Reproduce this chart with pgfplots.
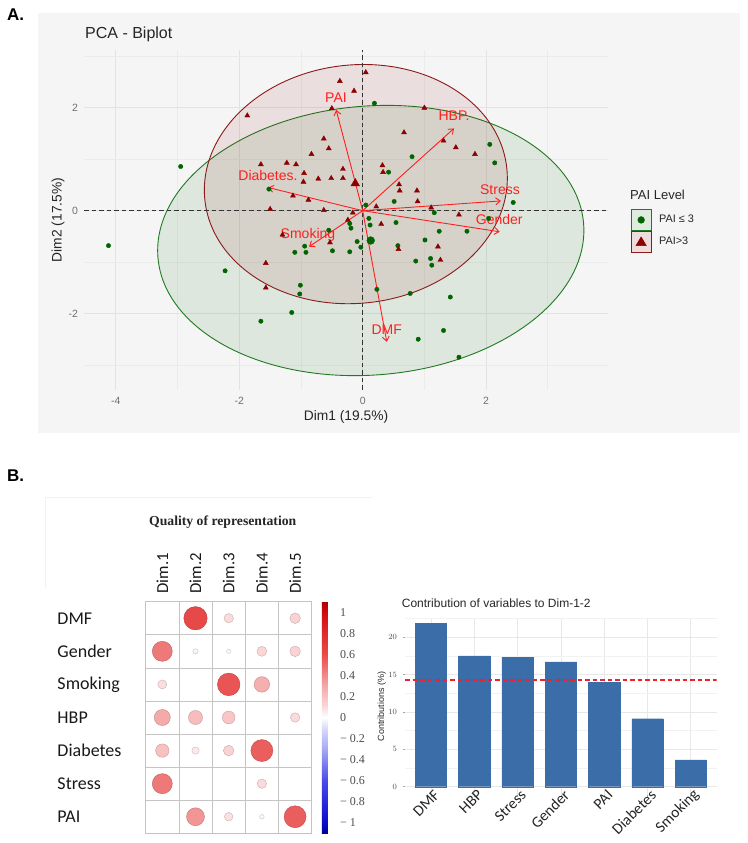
\documentclass[border=0pt]{standalone}
\usepackage{fontspec}
\setmainfont{Liberation Sans}
\newfontfamily\carlito{Carlito}
\newfontfamily\tnr{Liberation Serif}
\usepackage{pgfplots}
\pgfplotsset{compat=1.18}
\usetikzlibrary{arrows.meta}
\definecolor{bgA}{HTML}{F5F5F5}
\definecolor{gridA}{HTML}{E2E2E2}
\definecolor{gridAm}{HTML}{EBEBEB}
\definecolor{tickA}{HTML}{707070}
\definecolor{dkgreen}{HTML}{006400}
\definecolor{dkred}{HTML}{8B0000}
\definecolor{ellred}{HTML}{8B1A1A}
\definecolor{ellgreen}{HTML}{217A21}
\definecolor{lgreen}{HTML}{E0EBE0}
\definecolor{lred}{HTML}{EEDCDC}
\definecolor{arrowred}{HTML}{FF1F1F}
\definecolor{barblue}{HTML}{3B6EA8}
\definecolor{gridB}{HTML}{E8E8E8}
\definecolor{gridBm}{HTML}{F2F2F2}
\definecolor{tickB}{HTML}{4D4D4D}
\definecolor{cellgrid}{HTML}{C4C4C4}
\definecolor{refred}{HTML}{F0202D}
\begin{document}
\begin{tikzpicture}
\path[use as bounding box] (0pt,0pt) rectangle (747pt,843pt);
\fill[bgA] (38pt,410pt) rectangle (740pt,830pt);
\draw[black!5, line width=0.6pt] (45pt,255pt) -- (45pt,346pt) -- (372pt,346pt);

% ---------------- Panel A: PCA biplot ----------------
\begin{axis}[
  at={(84pt,453pt)}, anchor=south west,
  scale only axis, width=524pt, height=340pt,
  xmin=-4.517, xmax=3.976, ymin=-3.488, ymax=3.126,
  axis line style={draw=none},
  major tick length=0pt, minor tick length=0pt,
  xtick={-4,-2,0,2}, xticklabels={-4,-2,0,2},
  ytick={-2,0,2}, yticklabels={-2,0,2},
  minor xtick={-3,-1,1,3}, minor ytick={-3,-1,1,3},
  grid=both,
  major grid style={gridA, line width=0.9pt},
  minor grid style={gridAm, line width=0.6pt},
  tick label style={font=\fontsize{10.5}{11}\selectfont, text=tickA},
  xticklabel style={yshift=-3.5pt},
  yticklabel style={xshift=-2.5pt},
  xlabel={Dim1 (19.5\%)}, ylabel={Dim2 (17.5\%)},
  label style={font=\fontsize{13.8}{14}\selectfont, text=black!85},
  xlabel style={at={(axis description cs:0.5,-0.0794)}, anchor=center},
  ylabel style={at={(axis description cs:-0.0496,0.5)}, anchor=center},
  legend style={at={(1.0433,0.5324)}, anchor=north west, draw=none, fill=none,
    inner sep=0pt, outer sep=0pt, row sep=0pt,
    font=\fontsize{10.9}{11}\selectfont, text=black!85,
    nodes={inner sep=0pt, anchor=west},
    /tikz/every odd column/.append style={column sep=7.5pt}},
  legend cell align=left,
]
\addlegendimage{legend image code/.code={\draw[ellgreen, fill=lgreen, line width=0.9pt] (0pt,-10.5pt) rectangle (20pt,10.5pt); \fill[dkgreen] (10pt,0pt) circle (3.4pt);}}
\addlegendentry{PAI ≤ 3}
\addlegendimage{legend image code/.code={\draw[ellred, fill=lred, line width=0.9pt] (0pt,-10.5pt) rectangle (20pt,10.5pt); \fill[dkred] (10pt,5pt) -- (4.8pt,-3.8pt) -- (15.2pt,-3.8pt) -- cycle;}}
\addlegendentry{PAI>3}

% concentration ellipses
\draw[ellgreen, line width=0.9pt, fill=dkgreen, fill opacity=0.09,
      rotate around={4.5:(axis cs:0.131,-0.58)}]
      (axis cs:0.131,-0.58) ellipse [x radius=213.5pt, y radius=134.5pt];
\draw[ellred, line width=0.9pt, fill=dkred, fill opacity=0.09,
      rotate around={6:(axis cs:-0.111,0.517)}]
      (axis cs:-0.111,0.517) ellipse [x radius=151.8pt, y radius=119.2pt];

% reference lines
\addplot[black!80, line width=1.1pt, dash pattern=on 4.5pt off 3pt] coordinates {(-4.517,0) (3.976,0)};
\addplot[black!80, line width=1.1pt, dash pattern=on 4.5pt off 3pt] coordinates {(0,-3.488) (0,3.126)};

% individuals: PAI <= 3
\addplot[only marks, mark=*, mark size=2.2pt, dkgreen] table {
x y
0.19 2.09
-2.95 0.86
-1.52 0.42
-4.12 -0.68
-0.55 -0.38
-0.21 -0.25
-0.19 -0.34
-0.94 -0.69
-0.92 -0.81
-1.10 -0.81
-0.49 -0.78
-0.21 -0.80
-0.09 -0.60
-0.03 -0.71
0.10 -0.15
0.12 -0.28
0.05 0.11
-2.23 -1.17
-1.01 -1.45
-1.02 -1.62
-1.15 -1.98
-1.65 -2.15
0.23 -1.53
2.06 1.29
2.14 0.93
0.80 1.05
0.42 0.75
0.51 0.18
2.44 0.16
1.16 -0.04
2.04 -0.15
0.54 -0.23
1.24 -0.40
1.69 -0.40
1.01 -0.57
0.57 -0.68
0.86 -0.98
1.10 -0.93
1.12 -1.06
0.77 -1.61
1.42 -1.68
1.31 -2.33
0.90 -2.50
1.56 -2.85
};
% individuals: PAI > 3
\addplot[only marks, mark=triangle*, mark size=2.9pt, dkred] table {
x y
0.05 2.69
-0.37 2.52
-0.14 2.33
-0.50 1.99
-1.87 1.85
-0.63 1.40
-0.55 1.21
-0.83 1.10
-1.65 0.90
-1.23 0.93
-1.08 0.90
-0.95 0.73
-0.96 0.56
-0.72 0.62
-0.51 0.63
-0.32 0.81
-0.32 0.63
-1.13 0.29
-0.88 0.21
-1.50 0.03
-0.63 0.01
-0.16 -0.04
-0.24 -0.18
-1.30 -0.47
-0.53 -0.62
-1.57 -1.02
-1.57 -1.50
1.00 2.00
0.67 1.52
1.31 1.36
1.51 1.23
1.82 1.10
0.32 0.88
0.33 0.75
0.59 0.51
0.60 0.39
0.88 0.39
0.89 0.18
0.22 0.08
1.11 0.06
1.56 -0.08
0.30 -0.26
0.58 -0.75
1.22 -0.70
1.26 -0.96
};
% group means
\addplot[only marks, mark=*, mark size=3.9pt, dkgreen] coordinates {(0.13,-0.58)};
\addplot[only marks, mark=triangle*, mark size=5pt, dkred] coordinates {(-0.12,0.53)};

% variable arrows
\addplot[arrowred, line width=0.9pt, -{Straight Barb[length=4.5pt,width=7pt]}] coordinates {(0,0) (-0.43,1.96)};
\addplot[arrowred, line width=0.9pt, -{Straight Barb[length=4.5pt,width=7pt]}] coordinates {(0,0) (1.48,1.60)};
\addplot[arrowred, line width=0.9pt, -{Straight Barb[length=4.5pt,width=7pt]}] coordinates {(0,0) (-1.53,0.45)};
\addplot[arrowred, line width=0.9pt, -{Straight Barb[length=4.5pt,width=7pt]}] coordinates {(0,0) (-0.87,-0.70)};
\addplot[arrowred, line width=0.9pt, -{Straight Barb[length=4.5pt,width=7pt]}] coordinates {(0,0) (2.24,0.19)};
\addplot[arrowred, line width=0.9pt, -{Straight Barb[length=4.5pt,width=7pt]}] coordinates {(0,0) (2.22,-0.41)};
\addplot[arrowred, line width=0.9pt, -{Straight Barb[length=4.5pt,width=7pt]}] coordinates {(0,0) (0.39,-2.55)};

\node[text=arrowred, font=\fontsize{14}{14}\selectfont, inner sep=0pt] at (axis cs:-0.433,2.19) {PAI};
\node[text=arrowred, font=\fontsize{14}{14}\selectfont, inner sep=0pt] at (axis cs:1.48,1.84) {HBP.};
\node[text=arrowred, font=\fontsize{14}{14}\selectfont, inner sep=0pt] at (axis cs:-1.535,0.68) {Diabetes.};
\node[text=arrowred, font=\fontsize{14}{14}\selectfont, inner sep=0pt] at (axis cs:-0.887,-0.47) {Smoking};
\node[text=arrowred, font=\fontsize{14}{14}\selectfont, inner sep=0pt] at (axis cs:2.225,0.416) {Stress};
\node[text=arrowred, font=\fontsize{14}{14}\selectfont, inner sep=0pt] at (axis cs:2.214,-0.18) {Gender};
\node[text=arrowred, font=\fontsize{14}{14}\selectfont, inner sep=0pt] at (axis cs:0.389,-2.32) {DMF};
\end{axis}

% ---------------- Panel B left: quality of representation ----------------
\begin{axis}[
  at={(145.7pt,9.7pt)}, anchor=south west,
  scale only axis, width=166pt, height=231.6pt,
  xmin=0.5, xmax=5.5, ymin=0.5, ymax=7.5, y dir=reverse,
  xtick={1,2,3,4,5}, xticklabels={Dim.1,Dim.2,Dim.3,Dim.4,Dim.5},
  ytick={1,2,3,4,5,6,7}, yticklabels={DMF,Gender,Smoking,HBP,Diabetes,Stress,PAI},
  xticklabel pos=top,
  major tick length=0pt, minor tick length=0pt,
  minor xtick={1.5,2.5,3.5,4.5}, minor ytick={1.5,2.5,3.5,4.5,5.5,6.5},
  grid=minor, minor grid style={cellgrid, line width=0.7pt},
  axis line style={cellgrid, line width=0.7pt},
  xticklabel style={rotate=90, anchor=west, inner sep=0pt, font=\carlito\fontsize{16.8}{17}\selectfont, text=black!90},
  xticklabel shift=8pt,
  yticklabel style={anchor=west, inner sep=0pt, xshift=-88.4pt, font=\carlito\fontsize{18}{18}\selectfont, text=black!90},
  colormap={corr}{rgb255(0pt)=(0,0,150) rgb255(10pt)=(10,10,205) rgb255(50pt)=(75,75,232) rgb255(80pt)=(168,168,245) rgb255(100pt)=(218,218,250) rgb255(110pt)=(255,255,255) rgb255(120pt)=(250,218,218) rgb255(140pt)=(245,168,168) rgb255(170pt)=(232,75,75) rgb255(210pt)=(210,10,15) rgb255(220pt)=(170,0,0)},
  point meta min=-1.1, point meta max=1.1,
  colorbar,
  colorbar style={
    at={(parent axis.south east)}, anchor=south west, xshift=1.6pt,
    width=6pt, y dir=normal,
    ytick={-1,-0.8,-0.6,-0.4,-0.2,0,0.2,0.4,0.6,0.8,1},
    yticklabels={− 1,− 0.8,− 0.6,− 0.4,− 0.2,0,0.2,0.4,0.6,0.8,1},
    yticklabel pos=right,
    yticklabel style={font=\tnr\fontsize{12}{12}\selectfont, text=black!70, anchor=west, inner sep=0pt, xshift=12pt},
    axis line style={draw=none}, major tick length=0pt,
  },
]
\addplot[scatter, only marks, mark=*, point meta=explicit,
  visualization depends on={14.94*sqrt(\thisrow{v}) \as \rad},
  scatter/@pre marker code/.append style={/tikz/mark size=\rad pt}]
  table[x=c, y=r, meta=v] {
c r v
2 1 0.61
3 1 0.10
5 1 0.126
1 2 0.45
2 2 0.03
3 2 0.02
4 2 0.11
5 2 0.126
1 3 0.09
3 3 0.57
4 3 0.27
1 4 0.29
2 4 0.22
3 4 0.18
5 4 0.10
1 5 0.20
2 5 0.06
3 5 0.126
4 5 0.54
1 6 0.45
4 6 0.10
2 7 0.36
3 7 0.083
4 7 0.024
5 7 0.54
};
\end{axis}

% ---------------- Panel B right: contributions ----------------
\begin{axis}[
  at={(405pt,48pt)}, anchor=south west,
  scale only axis, width=311.7pt, height=176.7pt,
  xmin=0.4, xmax=7.6, ymin=-1.11, ymax=22.54,
  xtick={1,2,3,4,5,6,7}, xticklabels={DMF,HBP,Stress,Gender,PAI,Diabetes,Smoking},
  ytick={0,5,10,15,20}, minor ytick={2.5,7.5,12.5,17.5,22.5},
  grid=both, major grid style={gridB, line width=0.7pt}, minor grid style={gridBm, line width=0.45pt},
  axis line style={draw=none},
  xtick pos=bottom, ytick pos=left, tick align=outside,
  major tick length=2.5pt, minor tick length=0pt,
  tick style={black!35, line width=0.5pt},
  yticklabel style={font=\fontsize{8}{8}\selectfont, text=tickB, xshift=-2pt},
  xticklabel style={anchor=east, inner sep=0pt, xshift=6pt, yshift=5pt, rotate=45, font=\carlito\fontsize{15.5}{16}\selectfont, text=black!85},
  ylabel={Contributions (\%)},
  ylabel style={at={(axis description cs:-0.0748,0.5)}, anchor=center, font=\fontsize{9}{10}\selectfont, text=black!85},
]
\addplot[ybar, bar width=31.3pt, fill=barblue, draw=barblue] coordinates {(1,21.9) (2,17.5) (3,17.3) (4,16.7) (5,14.0) (6,9.1) (7,3.6)};
\addplot[color=refred, line width=1.3pt, dash pattern=on 4.5pt off 3pt] coordinates {(0.4,14.29) (7.6,14.29)};
\end{axis}

% ---------------- titles and panel letters ----------------
\node[anchor=west, inner sep=0pt, font=\bfseries\fontsize{17}{17}\selectfont] at (7pt,828pt) {A.};
\node[anchor=west, inner sep=0pt, font=\bfseries\fontsize{17}{17}\selectfont] at (7pt,367pt) {B.};
\node[anchor=west, inner sep=0pt, font=\fontsize{16}{16}\selectfont, text=black!85] at (85pt,809pt) {PCA - Biplot};
\node[anchor=west, inner sep=0pt, font=\fontsize{13}{13}\selectfont, text=black!85] at (630pt,648pt) {PAI Level};
\node[inner sep=0pt, font=\tnr\bfseries\fontsize{13.7}{14}\selectfont, text=black!85] at (222.7pt,320.7pt) {Quality of representation};
\node[anchor=west, inner sep=0pt, font=\fontsize{12}{12}\selectfont, text=black!85] at (401.7pt,239.7pt) {Contribution of variables to Dim-1-2};
\end{tikzpicture}
\end{document}
